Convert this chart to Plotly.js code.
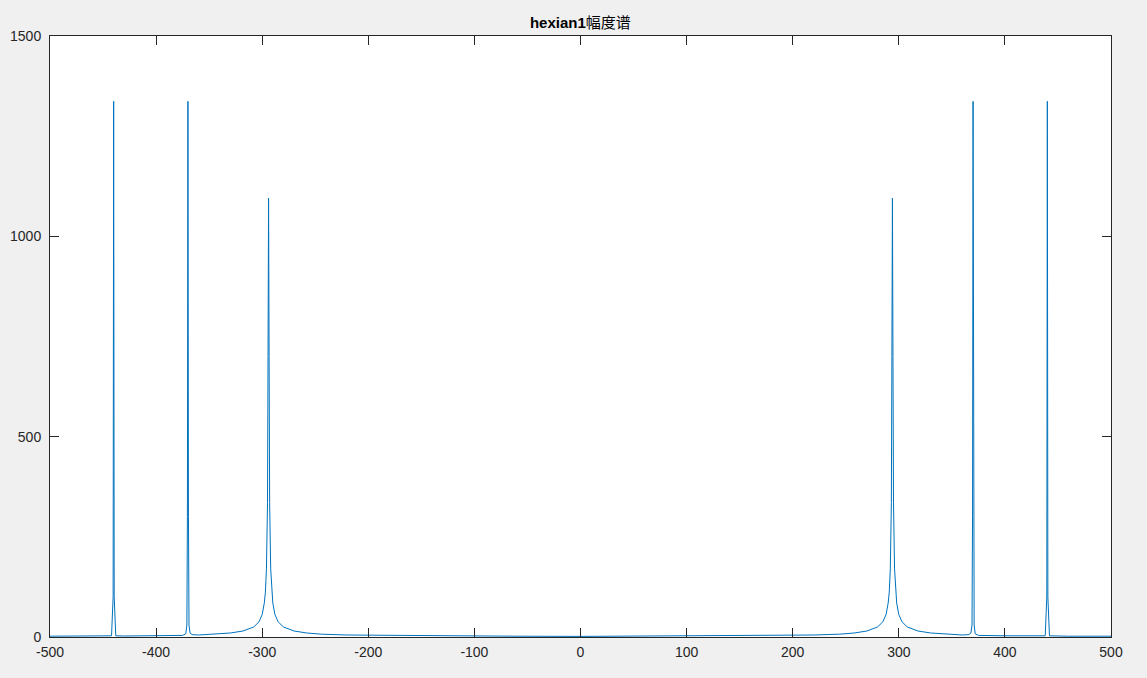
<!DOCTYPE html>
<html>
<head>
<meta charset="utf-8">
<script src="https://cdn.plot.ly/plotly-3.0.1.min.js"></script>
<style>html,body{margin:0;padding:0;background:#f0f0f0;}#chart{width:1147px;height:678px;}</style>
</head>
<body>
<div id="chart"></div>
<script>
// Frequency (Hz) and magnitude values
const freq = [
  -500, -460, -442, -440.5, -440, -439.5, -438, -430, -400, -375, -372, -371, -370.5, -370, -369.5, -369, -368, -366, -360,
  -344, -330, -318, -308, -303, -300, -298, -297, -296, -295, -294.5, -294, -293.5, -293, -292, -291, -290, -288, -285,
  -280, -270, -258, -244, -220, -180, -120, -60,
  0,
  60, 120, 180, 220, 244, 258, 270, 280, 285, 288, 290, 291, 292, 293, 293.5, 294, 294.5, 295, 296, 297, 298, 300,
  303, 308, 318, 330, 344, 360, 366, 368, 369, 369.5, 370, 370.5, 371, 372, 375, 400, 430, 438, 439.5, 440, 440.5,
  442, 460, 500
];
const magnitude = [
  2, 2, 3, 100, 1337, 100, 3, 2.5, 3, 4, 8, 30, 300, 1337, 300, 30, 10, 6, 5,
  7, 10, 15, 25, 38, 56, 85, 112, 170, 335, 700, 1095, 700, 335, 170, 112, 85, 56, 38,
  25, 15, 10, 7, 5, 4, 2.5, 2,
  1.5,
  2, 2.5, 4, 5, 7, 10, 15, 25, 38, 56, 85, 112, 170, 335, 700, 1095, 700, 335, 170, 112, 85, 56,
  38, 25, 15, 10, 7, 5, 6, 10, 30, 300, 1337, 300, 30, 8, 4, 3, 2.5, 3, 100, 1337, 100,
  3, 2, 2
];
const xTicks = [-500, -400, -300, -200, -100, 0, 100, 200, 300, 400, 500];
const yTicks = [0, 500, 1000, 1500];
const titleLatin = 'hexian1';
const titleCJK = '幅度谱';

const axisCommon = {
  showgrid: false,
  zeroline: false,
  showline: true,
  linecolor: '#262626',
  linewidth: 1,
  mirror: 'ticks',
  ticks: 'inside',
  ticklen: 9,
  tickwidth: 1,
  tickcolor: '#262626',
  tickfont: {family: 'Liberation Sans, Arial, sans-serif', size: 14, color: '#262626'},
  fixedrange: true
};

Plotly.newPlot('chart', [{
  x: freq,
  y: magnitude,
  type: 'scatter',
  mode: 'lines',
  line: {color: '#0072BD', width: 1},
  hoverinfo: 'skip'
}], {
  width: 1147,
  height: 678,
  paper_bgcolor: '#f0f0f0',
  plot_bgcolor: '#ffffff',
  margin: {l: 50, r: 36, t: 36, b: 41},
  showlegend: false,
  title: {
    text: '<b>' + titleLatin + '</b><span style="font-family:Noto Sans CJK SC">' + titleCJK + '</span>',
    x: 0.506, xanchor: 'center',
    y: 0.966, yanchor: 'middle',
    font: {family: 'Liberation Sans, Noto Sans CJK SC, sans-serif', size: 15, color: '#000000'}
  },
  xaxis: Object.assign({}, axisCommon, {
    range: [-500, 500],
    tickmode: 'array',
    tickvals: xTicks,
    ticktext: xTicks.map(String),
    ticklabelstandoff: 2
  }),
  yaxis: Object.assign({}, axisCommon, {
    range: [0, 1500],
    tickmode: 'array',
    tickvals: yTicks,
    ticktext: yTicks.map(String),
    ticklabelstandoff: 5
  })
}, {displayModeBar: false, staticPlot: true});
</script>
</body>
</html>
